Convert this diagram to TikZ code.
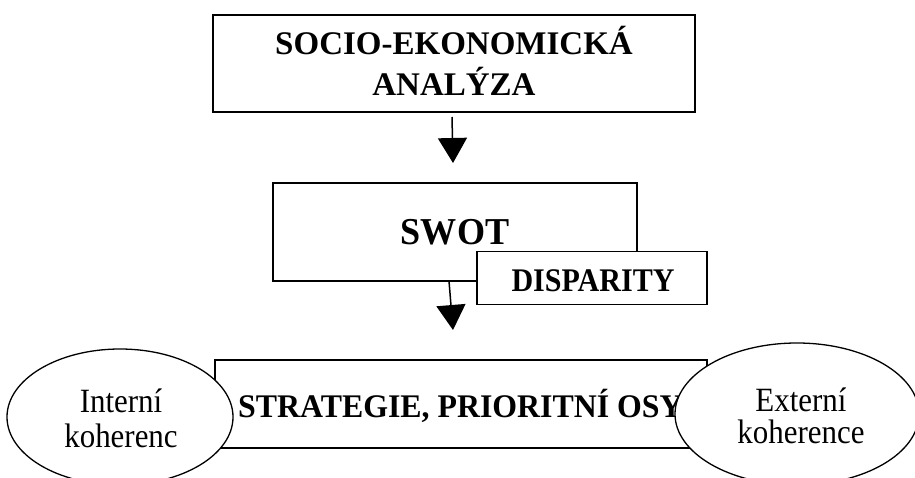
\documentclass[tikz,border=0pt]{standalone}
\usepackage{fontspec}
\setmainfont{Liberation Serif}
\newfontfamily\narrowA{Liberation Serif}[FakeStretch=0.95]
\newfontfamily\narrowB{Liberation Serif}[FakeStretch=0.91]
\newfontfamily\narrowC{Liberation Serif}[FakeStretch=0.965]
\usetikzlibrary{arrows.meta,shapes.geometric}
\tikzset{
  boxnode/.style={draw=black, line width=1.8pt, fill=white, rectangle, inner sep=0pt},
  lbl/.style={inner sep=0pt, align=center},
  ellnode/.style={draw=black, line width=1.3pt, fill=white, ellipse, inner sep=0pt},
  flowarrow/.style={line width=1.5pt, -{Triangle[width=29pt,length=25pt]}}
}
\begin{document}
\begin{tikzpicture}[x=1pt,y=-1pt]
\useasboundingbox (0,0) rectangle (915,477);
% top box
\node[boxnode, minimum width=482pt, minimum height=97pt] (soc) at (454,63.5) {};
\node[lbl, font=\bfseries\fontsize{33}{41.5}\selectfont] (soct) at (454,61) {SOCIO-EKONOMICKÁ\\ANALÝZA};
\coordinate (a1s) at (452,117);
\coordinate (a1e) at (453,163);
\draw[flowarrow] (a1s) -- (a1e);
% SWOT
\node[boxnode, minimum width=364pt, minimum height=98pt] (swot) at (455,232) {};
\node[lbl, font=\narrowA\bfseries\fontsize{38}{40}\selectfont] (swott) at (455,232) {SWOT};
\node[boxnode, minimum width=230pt, minimum height=53pt] (disp) at (592,278) {};
\node[lbl, font=\narrowB\bfseries\fontsize{33}{36}\selectfont] (dispt) at (593,281) {DISPARITY};
\coordinate (a2s) at (449,281);
\coordinate (a2e) at (453,330);
\draw[flowarrow] (a2s) -- (a2e);
% strategy
\node[boxnode, minimum width=492pt, minimum height=88pt] (strat) at (461,404) {};
\node[lbl, font=\narrowC\bfseries\fontsize{33}{36}\selectfont, anchor=west] (stratt) at (238,406) {STRATEGIE, PRIORITNÍ OSY};
% ellipses
\node[ellnode, minimum width=226pt, minimum height=136pt] (int) at (120,417) {};
\node[lbl, font=\narrowB\fontsize{34}{35}\selectfont] (intt) at (121,418) {Interní\\koherenc};
\node[ellnode, minimum width=244pt, minimum height=142pt] (ext) at (797,414) {};
\node[lbl, font=\narrowB\fontsize{34}{32}\selectfont] (extt) at (801,416) {Externí\\koherence};
\end{tikzpicture}
\end{document}
